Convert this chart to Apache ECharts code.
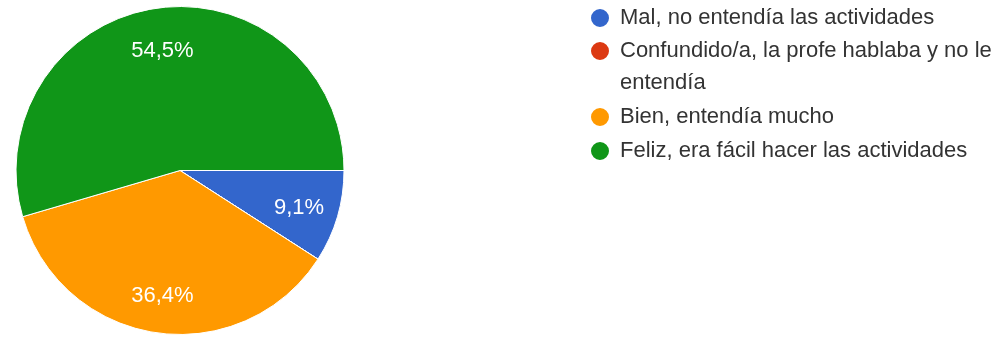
<!DOCTYPE html>
<html>
<head>
<meta charset="utf-8">
<style>
  html, body { margin: 0; padding: 0; background: #ffffff; }
  #chart { width: 1007px; height: 337px; }
</style>
<script src="https://cdn.jsdelivr.net/npm/echarts@6/dist/echarts.min.js"></script>
</head>
<body>
<div id="chart"></div>
<script>
// Answers to "¿Cómo te sentías?" and how many students picked each one
const categories = [
  'Mal, no entendía las actividades',
  'Confundido/a, la profe hablaba y no le entendía',
  'Bien, entendía mucho',
  'Feliz, era fácil hacer las actividades'
];
const counts = [1, 0, 4, 6];
const colors = ['#3366cc', '#dc3912', '#ff9900', '#109618'];

const total = counts.reduce((a, b) => a + b, 0);
const pieData = categories.map((name, i) => ({ name, value: counts[i] }));

const center = [180, 170.5];
const outerR = 164;
const fontFamily = '"Liberation Sans", Arial, sans-serif';

// Legend rows: one legend per entry so each dot sits on the first text line.
// The long entry breaks before its last word and gets a leading blank line,
// which keeps its first line centred on the dot.
const legendTops = [3, 3, 102, 136];
const legends = categories.map((name, i) => {
  const wrapped = i === 1;
  return {
    data: [name],
    orient: 'vertical',
    left: 589,
    top: legendTops[i],
    padding: 0,
    icon: 'circle',
    itemWidth: 30,
    itemHeight: 20,
    selectedMode: false,
    formatter: n => wrapped ? '\n' + n.replace(/ (\S+)$/, '\n$1') : n,
    textStyle: {
      color: '#333333',
      fontSize: 22,
      fontFamily,
      lineHeight: wrapped ? 32 : 30
    }
  };
});

const chart = echarts.init(document.getElementById('chart'), null, { renderer: 'canvas' });
chart.setOption({
  animation: false,
  color: colors,
  legend: legends,
  series: [
    {
      type: 'pie',
      center,
      radius: [0, outerR],
      startAngle: 0,
      clockwise: true,
      silent: true,
      data: pieData,
      itemStyle: { borderColor: '#ffffff', borderWidth: 1 },
      label: { show: false },
      labelLine: { show: false }
    },
    {
      // transparent ring that only carries the percentage labels
      type: 'pie',
      center,
      radius: [78, outerR],
      startAngle: 0,
      clockwise: true,
      silent: true,
      avoidLabelOverlap: false,
      data: pieData,
      itemStyle: { color: 'rgba(0,0,0,0)', borderWidth: 0 },
      label: {
        show: true,
        position: 'inside',
        color: '#ffffff',
        fontSize: 22,
        fontFamily,
        offset: [0, 3],
        formatter: p => p.value ? (p.value / total * 100).toFixed(1).replace('.', ',') + '%' : ''
      },
      labelLine: { show: false }
    }
  ]
});
</script>
</body>
</html>
